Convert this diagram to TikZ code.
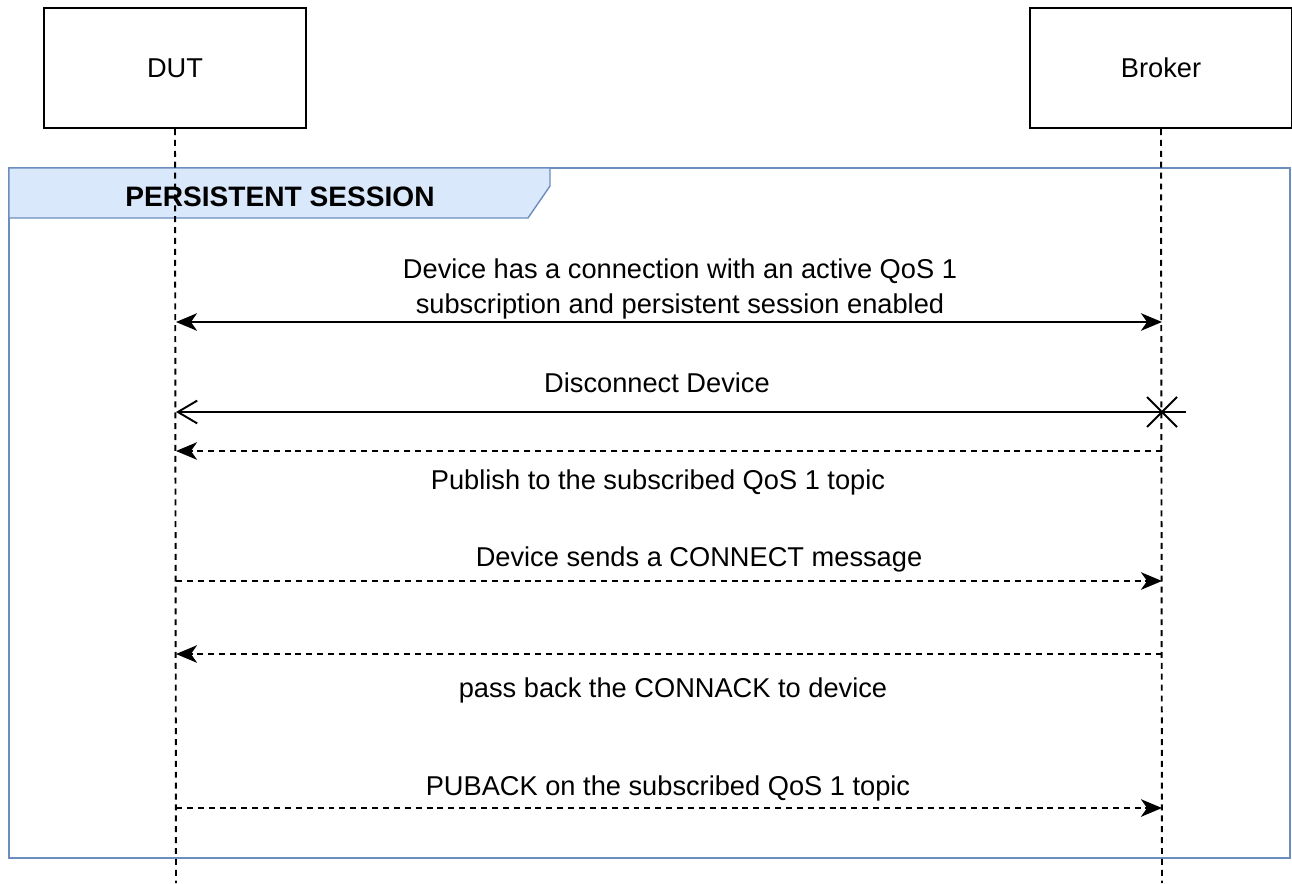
\documentclass[tikz,border=0pt]{standalone}
\usepackage{fontspec}
\setmainfont{Liberation Sans}
\usetikzlibrary{arrows.meta,calc}

\definecolor{framefill}{HTML}{DAE8FC}
\definecolor{frameline}{HTML}{6C8EBF}

\tikzset{
    >={Stealth[length=12pt,width=10pt,inset=3.5pt]},
    actor/.style={draw, line width=1.2pt, minimum width=262*0.02cm, minimum height=120*0.02cm, font=\fontsize{15.5}{18}\selectfont},
    lifeline/.style={line width=1.1pt, dash pattern=on 3.4pt off 2.8pt},
    msg/.style={line width=1.1pt, ->},
    msgdash/.style={msg, dash pattern=on 3.4pt off 2.8pt},
    lbl/.style={font=\fontsize{15.5}{20}\selectfont, align=center, inner sep=0pt}
}

\begin{document}
\begin{tikzpicture}[x=0.02cm, y=-0.02cm]% pixel grid of the reference
    \useasboundingbox (0,0) rectangle (1292,883);

    % Frame with its tab
    \draw[frameline, line width=0.8pt] (9,168) rectangle (1290,858);
    \draw[frameline, fill=framefill, line width=0.8pt] (9,168) -- (550,168) -- (550,186) -- (528,218) -- (9,218) -- cycle;
    \node[font=\fontsize{16}{18}\selectfont\bfseries] (frametitle) at (280,197) {PERSISTENT SESSION};

    % Actors and lifelines
    \node[actor] (dut) at (175,68) {DUT};
    \node[actor] (broker) at (1161,68) {Broker};
    \coordinate (dutend) at (176,883);
    \coordinate (brokerend) at (1162,883);
    \draw[lifeline] (dut.south) -- (dutend);
    \draw[lifeline] (broker.south) -- (brokerend);

    % Points on the lifelines
    \coordinate (d1) at (176,322); \coordinate (b1) at (1162,322);
    \coordinate (d2) at (176,412); \coordinate (b2) at (1162,412); \coordinate (b2x) at (1186,412);
    \coordinate (d3) at (176,451); \coordinate (b3) at (1162,451);
    \coordinate (d4) at (176,581); \coordinate (b4) at (1162,581);
    \coordinate (d5) at (176,654); \coordinate (b5) at (1162,654);
    \coordinate (d6) at (176,808); \coordinate (b6) at (1162,808);

    % Messages
    \draw[line width=1.1pt, <->] (d1) -- (b1);
    \node[lbl] (m1) at (680,289) {Device has a connection with an active QoS 1\\subscription and persistent session enabled};

    \draw[line width=1.1pt, -{Straight Barb[length=11pt,width=13pt]}] (b2x) -- (d2);
    \draw[line width=1.1pt] ($(b2)+(-15,-15)$) -- ($(b2)+(15,15)$) ($(b2)+(-15,15)$) -- ($(b2)+(15,-15)$);
    \node[lbl] (m2) at (657,383) {Disconnect Device};

    \draw[msgdash] (b3) -- (d3);
    \node[lbl] (m3) at (658,482) {Publish to the subscribed QoS 1 topic};

    \draw[msgdash] (d4) -- (b4);
    \node[lbl] (m4) at (699,559) {Device sends a CONNECT message};

    \draw[msgdash] (b5) -- (d5);
    \node[lbl] (m5) at (673,690) {pass back the CONNACK to device};

    \draw[msgdash] (d6) -- (b6);
    \node[lbl] (m6) at (668,788) {PUBACK on the subscribed QoS 1 topic};
\end{tikzpicture}
\end{document}
